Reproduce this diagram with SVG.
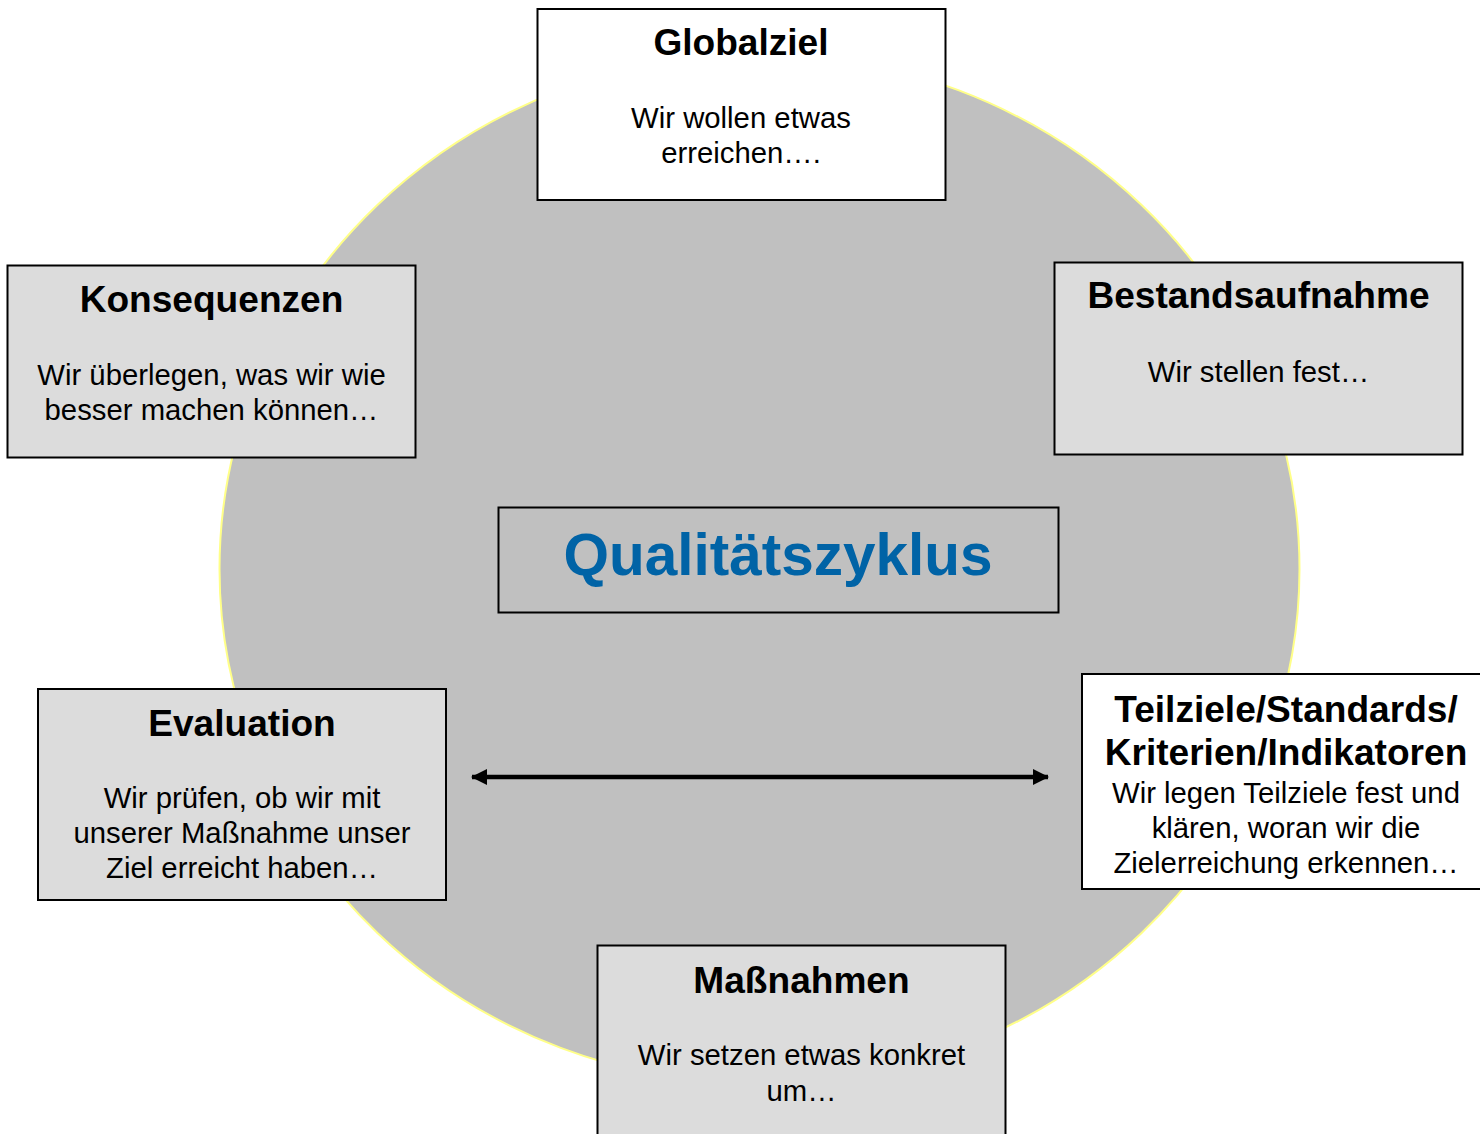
<svg xmlns="http://www.w3.org/2000/svg" width="1480" height="1134" viewBox="0 0 1480 1134">
<style>
.box{stroke:#000;stroke-width:2}
.grey{fill:#dcdcdc}
.white{fill:#fff}
.t{font-family:"Liberation Sans",Arial,sans-serif;font-weight:bold;font-size:37.1px;fill:#000;text-anchor:middle}
.b{font-family:"Liberation Sans",Arial,sans-serif;font-size:29.3px;fill:#000;text-anchor:middle}
.main{font-family:"Liberation Sans",Arial,sans-serif;font-weight:bold;font-size:58.5px;fill:#0063a6;text-anchor:middle}
</style>
<defs>
<marker id="ah" viewBox="0 0 16 16" refX="15" refY="8" markerWidth="16" markerHeight="16" markerUnits="userSpaceOnUse" orient="auto-start-reverse">
<path d="M0,0 L16,8 L0,16 Z" fill="#000"/>
</marker>
</defs>
<rect width="1480" height="1134" fill="#fff"/>
<ellipse id="cycle" cx="759.5" cy="569" rx="540" ry="515" fill="#c0c0c0" stroke="#ffff88" stroke-width="2"/>
<g id="connectors">
<path d="M472,777 L1048,777" stroke="#000" stroke-width="4.5" fill="none" marker-start="url(#ah)" marker-end="url(#ah)"/>
</g>
<g id="center">
<rect class="box" x="498.5" y="507.5" width="560" height="105" fill="none"/>
<text class="main" x="778" y="575">Qualitätszyklus</text>
</g>
<g id="globalziel">
<rect class="box white" x="537.5" y="9" width="408" height="191"/>
<text class="t" x="741" y="55">Globalziel</text>
<text class="b" x="741" y="127.5">Wir wollen etwas</text>
<text class="b" x="741" y="162.5">erreichen….</text>
</g>
<g id="konsequenzen">
<rect class="box grey" x="7.5" y="265.5" width="408" height="192"/>
<text class="t" x="211.5" y="312">Konsequenzen</text>
<text class="b" x="211.5" y="384.5">Wir überlegen, was wir wie</text>
<text class="b" x="211.5" y="419.5">besser machen können…</text>
</g>
<g id="bestandsaufnahme">
<rect class="box grey" x="1054.5" y="262.5" width="408" height="192"/>
<text class="t" x="1258.5" y="308">Bestandsaufnahme</text>
<text class="b" x="1258.5" y="382">Wir stellen fest…</text>
</g>
<g id="evaluation">
<rect class="box grey" x="38" y="689" width="408" height="211"/>
<text class="t" x="242" y="736">Evaluation</text>
<text class="b" x="242" y="808">Wir prüfen, ob wir mit</text>
<text class="b" x="242" y="843">unserer Maßnahme unser</text>
<text class="b" x="242" y="878">Ziel erreicht haben…</text>
</g>
<g id="teilziele">
<rect class="box white" x="1082" y="674" width="408" height="215"/>
<text class="t" x="1286" y="722">Teilziele/Standards/</text>
<text class="t" x="1286" y="765">Kriterien/Indikatoren</text>
<text class="b" x="1286" y="803">Wir legen Teilziele fest und</text>
<text class="b" x="1286" y="838">klären, woran wir die</text>
<text class="b" x="1286" y="873">Zielerreichung erkennen…</text>
</g>
<g id="massnahmen">
<rect class="box grey" x="597.5" y="945.5" width="408" height="200"/>
<text class="t" x="801.5" y="993">Maßnahmen</text>
<text class="b" x="801.5" y="1065">Wir setzen etwas konkret</text>
<text class="b" x="801.5" y="1101">um…</text>
</g>
</svg>
